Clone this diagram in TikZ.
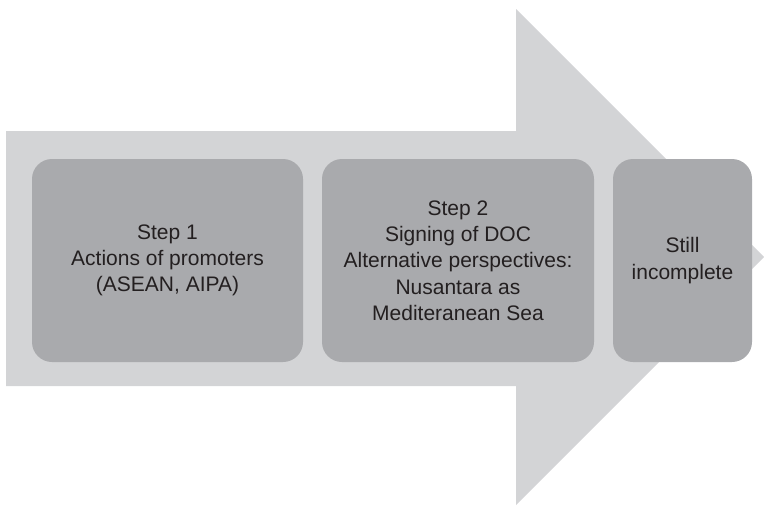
\documentclass[tikz,border=0pt]{standalone}
\usepackage{fontspec}
\setmainfont{Liberation Sans}
\definecolor{shaftgray}{HTML}{D3D4D6}
\definecolor{boxgray}{HTML}{A9AAAD}
\definecolor{txt}{HTML}{231F20}
\begin{document}
\begin{tikzpicture}[x=1pt,y=-1pt,
  stepbox/.style={rectangle, rounded corners=20pt, fill=boxgray, draw=none,
    inner sep=0pt, align=center, text=txt,
    font=\fontsize{21}{26.3}\selectfont}]
\useasboundingbox (0,0) rectangle (764,506);
\fill[shaftgray] (6,131) -- (516,131) -- (516,9) -- (764,257) -- (516,505) -- (516,386) -- (6,386) -- cycle;
\node[stepbox, minimum width=271pt, minimum height=203pt] (b1) at (167.5,260.5)
  {Step 1\\Actions of promoters\\(ASEAN, AIPA)};
\node[stepbox, minimum width=272pt, minimum height=203pt] (b2) at (458,260.5)
  {Step 2\\Signing of DOC\\Alternative perspectives:\\Nusantara as\\Mediteranean Sea};
\node[stepbox, minimum width=139pt, minimum height=203pt] (b3) at (682.5,260.5)
  {Still\\incomplete};
\end{tikzpicture}
\end{document}
